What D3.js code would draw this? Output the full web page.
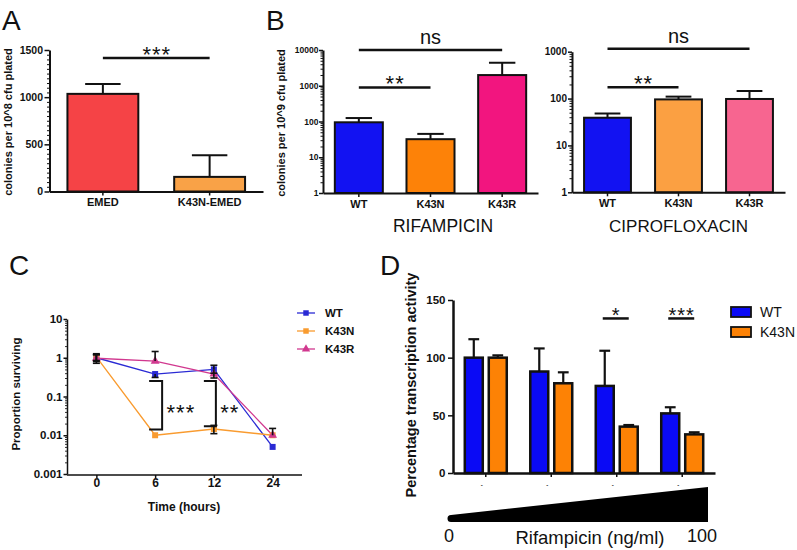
<!DOCTYPE html>
<html>
<head>
<meta charset="utf-8">
<script src="https://cdn.jsdelivr.net/npm/d3@7"></script>
<style>
  body { margin: 0; background: #fff; }
  text { font-family: "Liberation Sans", Arial, sans-serif; fill: #111; }
</style>
</head>
<body>
<svg id="fig" width="797" height="550"></svg>
<script>
// ---------- Panel A: colonies per 10^8 ----------
const aCats = ["EMED", "K43N-EMED"];
const aMeans = [1035, 155];
const aErrTop = [1140, 385];
const aColors = ["#f54346", "#f9a247"];
const aTicks = [0, 500, 1000, 1500];
const aSig = [{ a: 0, b: 1, v: 1415, label: "***" }];

// ---------- Panel B: rifampicin / ciprofloxacin ----------
const bCats = ["WT", "K43N", "K43R"];
const rifMeans = [95, 32, 1990];
const rifErrTop = [125, 45, 4400];
const rifColors = ["#1212f2", "#fd8208", "#f2157f"];
const rifTicks = [1, 10, 100, 1000, 10000];
const rifSig = [{ a: 0, b: 2, v: 10000, label: "ns" }, { a: 0, b: 1, v: 900, label: "**" }];

const cipMeans = [39, 96, 98];
const cipErrTop = [48, 110, 145];
const cipColors = ["#1212f2", "#fba042", "#f76590"];
const cipTicks = [1, 10, 100, 1000];
const cipSig = [{ a: 0, b: 2, v: 1150, label: "ns" }, { a: 0, b: 1, v: 175, label: "**" }];

// ---------- Panel C: survival over time ----------
const cTimes = ["0", "6", "12", "24"];
const cNames = ["WT", "K43N", "K43R"];
const cColors = ["#2a2ad4", "#f99b2f", "#d1388f"];
const cWT = [1.0, 0.38, 0.5, 0.005];
const cK43N = [1.05, 0.01, 0.0145, 0.01];
const cK43R = [0.97, 0.82, 0.38, 0.01];
const cWTHi = [1.2, null, 0.64, null];
const cWTLo = [0.8, 0.31, 0.4, null];
const cK43NHi = [1.2, null, 0.018, null];
const cK43NLo = [0.85, null, 0.011, null];
const cK43RHi = [1.27, 1.45, null, 0.015];
const cK43RLo = [0.72, null, 0.3, null];
const cTicks = [0.001, 0.01, 0.1, 1, 10];
const cSig = [{ at: "6", hi: 0.25, lo: 0.014, label: "***" }, { at: "12", hi: 0.25, lo: 0.017, label: "**" }];

// ---------- Panel D: transcription activity ----------
const dGroups = ["d1", "d2", "d3", "d4"];
const dTickLabels = ["-", "-", "-", "-"];
const dNames = ["WT", "K43N"];
const dColors = ["#0a0af5", "#fd8205"];
const dWT = [100, 88, 75.5, 51.7];
const dWTErr = [116, 108, 106, 57];
const dK43N = [100, 77.8, 40.2, 33.5];
const dK43NErr = [102, 87.3, 41.6, 35.3];
const dTicks = [0, 50, 100, 150];
const dSig = [{ g: 2, v: 134, label: "*" }, { g: 3, v: 134, label: "***" }];

const FONT = '"Liberation Sans", Arial, sans-serif';
const svg = d3.select("#fig");

function styleAxis(g, fs, lw) {
  g.attr("font-family", FONT);
  g.select(".domain").attr("stroke", "#111").attr("stroke-width", lw || 2);
  g.selectAll(".tick line").attr("stroke", "#111").attr("stroke-width", 1.5);
  g.selectAll(".tick text").attr("fill", "#111")
    .style("font-size", fs + "px").style("font-weight", "bold");
}

function logMinor(lo, hi) {
  const out = [];
  for (let d = lo; d < hi; d *= 10) {
    for (let k = 2; k <= 9; k++) out.push(d * k);
  }
  return out;
}

function panelLabel(txt, x, y) {
  svg.append("text").attr("x", x).attr("y", y)
    .style("font-size", "28px").text(txt);
}

function yLabel(txt, x, y, fs) {
  svg.append("text")
    .attr("transform", `translate(${x},${y}) rotate(-90)`)
    .attr("text-anchor", "middle")
    .style("font-size", fs + "px").style("font-weight", "bold")
    .text(txt);
}

function stars(g, txt, x, yc, fs, ls) {
  // asterisks sit high in the em box, so shift the baseline down
  g.append("text").attr("x", x + ls / 2).attr("y", yc + 0.58 * fs)
    .attr("text-anchor", "middle")
    .style("font-size", fs + "px")
    .style("letter-spacing", ls + "px")
    .text(txt);
}

// Generic bar panel (panels A and B)
function barPanel(o) {
  const g = svg.append("g");
  const x = d3.scaleBand().domain(o.cats).range(o.xr)
    .paddingInner(o.pad).paddingOuter(o.pad / 2);
  const y = o.y;
  const base = y.domain()[0];
  const bw = x.bandwidth();

  g.selectAll("rect.bar").data(o.means).join("rect")
    .attr("class", "bar")
    .attr("x", (d, i) => x(o.cats[i]))
    .attr("y", d => y(d))
    .attr("width", bw)
    .attr("height", d => y(base) - y(d))
    .attr("fill", (d, i) => o.colors[i])
    .attr("stroke", "#111").attr("stroke-width", 2);

  const cap = bw * o.cap;
  o.errTop.forEach((e, i) => {
    const cx = x(o.cats[i]) + bw / 2;
    g.append("line").attr("x1", cx).attr("x2", cx)
      .attr("y1", y(o.means[i])).attr("y2", y(e))
      .attr("stroke", "#111").attr("stroke-width", 2);
    g.append("line").attr("x1", cx - cap / 2).attr("x2", cx + cap / 2)
      .attr("y1", y(e)).attr("y2", y(e))
      .attr("stroke", "#111").attr("stroke-width", 2);
  });

  // minor ticks first, major axis on top
  if (o.minor) {
    g.append("g").attr("transform", `translate(${o.xr[0]},0)`)
      .call(d3.axisLeft(y).tickValues(o.minor).tickSize(2.5).tickFormat("").tickSizeOuter(0))
      .call(a => { a.select(".domain").remove(); a.selectAll("line").attr("stroke", "#111").attr("stroke-width", 1); });
  }
  const ya = g.append("g").attr("transform", `translate(${o.xr[0]},0)`)
    .call(d3.axisLeft(y).tickValues(o.ticks).tickSize(o.tickSize).tickPadding(o.tickPad)
      .tickFormat(d3.format("d")).tickSizeOuter(0));
  styleAxis(ya, o.tickFs);

  const xa = g.append("g").attr("transform", `translate(0,${y(base)})`)
    .call(d3.axisBottom(x).tickSize(4).tickPadding(3).tickSizeOuter(0));
  styleAxis(xa, o.catFs);

  o.sig.forEach(s => {
    const x1 = x(o.cats[s.a]) + bw / 2, x2 = x(o.cats[s.b]) + bw / 2;
    const yy = y(s.v);
    g.append("line").attr("x1", x1).attr("x2", x2).attr("y1", yy).attr("y2", yy)
      .attr("stroke", "#111").attr("stroke-width", 2.5);
    if (s.label === "ns") {
      g.append("text").attr("x", (x1 + x2) / 2).attr("y", yy - 6)
        .attr("text-anchor", "middle").style("font-size", "20px").text("ns");
    } else {
      stars(g, s.label, (x1 + x2) / 2, yy - 9, 22, 1);
    }
  });
  return { g, x, y };
}

// ---------- Panel A ----------
panelLabel("A", 2, 30);
barPanel({
  cats: aCats, means: aMeans, errTop: aErrTop, colors: aColors,
  xr: [49.5, 263], pad: 0.336, cap: 0.5,
  y: d3.scaleLinear().domain([0, 1500]).range([191.5, 50]),
  ticks: aTicks, minor: d3.range(50, 1500, 50).filter(v => v % 500 !== 0),
  tickSize: 5, tickPad: 1.5, tickFs: 10.5, catFs: 11, sig: aSig
});
yLabel("colonies per 10^8 cfu plated", 11.5, 122, 11);

// ---------- Panel B ----------
panelLabel("B", 266, 30);
barPanel({
  cats: bCats, means: rifMeans, errTop: rifErrTop, colors: rifColors,
  xr: [323, 538], pad: 0.33, cap: 0.55,
  y: d3.scaleLog().domain([1, 10000]).range([193, 50]),
  ticks: rifTicks, minor: logMinor(1, 10000),
  tickSize: 4, tickPad: 0.5, tickFs: 8.5, catFs: 11, sig: rifSig
});
yLabel("colonies per 10^9 cfu plated", 285, 123, 11);
svg.append("text").attr("x", 443).attr("y", 231.5).attr("text-anchor", "middle")
  .style("font-size", "17.5px").text("RIFAMPICIN");

barPanel({
  cats: bCats, means: cipMeans, errTop: cipErrTop, colors: cipColors,
  xr: [572, 785], pad: 0.34, cap: 0.55,
  y: d3.scaleLog().domain([1, 1000]).range([192.3, 51.7]),
  ticks: cipTicks, minor: logMinor(1, 1000),
  tickSize: 4, tickPad: 1, tickFs: 10, catFs: 11, sig: cipSig
});
svg.append("text").attr("x", 678.5).attr("y", 231.5).attr("text-anchor", "middle")
  .style("font-size", "17px").text("CIPROFLOXACIN");

// ---------- Panel C ----------
panelLabel("C", 9, 275);
{
  const g = svg.append("g");
  const x = d3.scalePoint().domain(cTimes).range([67, 302]).padding(0.5);
  const y = d3.scaleLog().domain([0.001, 10]).range([474, 319]);
  const series = [
    { name: cNames[0], vals: cWT, hi: cWTHi, lo: cWTLo, color: cColors[0], shape: d3.symbolSquare },
    { name: cNames[1], vals: cK43N, hi: cK43NHi, lo: cK43NLo, color: cColors[1], shape: d3.symbolSquare },
    { name: cNames[2], vals: cK43R, hi: cK43RHi, lo: cK43RLo, color: cColors[2], shape: d3.symbolTriangle }
  ];

  g.append("g").attr("transform", "translate(67,0)")
    .call(d3.axisLeft(y).tickValues(logMinor(0.001, 10)).tickSize(2).tickFormat("").tickSizeOuter(0))
    .call(a => { a.select(".domain").remove(); a.selectAll("line").attr("stroke", "#333").attr("stroke-width", 1); });
  const ya = g.append("g").attr("transform", "translate(67,0)")
    .call(d3.axisLeft(y).tickValues(cTicks).tickSize(3.5).tickPadding(1).tickFormat(d => String(d)).tickSizeOuter(0));
  styleAxis(ya, 11.5, 1.5);
  const xa = g.append("g").attr("transform", "translate(0,475)")
    .call(d3.axisBottom(x).tickSize(3).tickPadding(0).tickSizeOuter(0));
  xa.select(".domain").attr("d", "M67,0H302");
  styleAxis(xa, 12, 1.5);

  const line = d3.line().x((d, i) => x(cTimes[i])).y(d => y(d));
  series.forEach(s => {
    g.append("path").attr("d", line(s.vals)).attr("fill", "none")
      .attr("stroke", s.color).attr("stroke-width", 1.3);
  });
  series.forEach(s => {
    g.selectAll(null).data(s.vals).join("path")
      .attr("transform", (d, i) => `translate(${x(cTimes[i])},${y(d)})`)
      .attr("d", d3.symbol(s.shape, s.shape === d3.symbolTriangle ? 34 : 36))
      .attr("fill", s.color);
  });
  // error bars
  series.forEach(s => {
    s.vals.forEach((v, i) => {
      const cx = x(cTimes[i]);
      [s.hi[i], s.lo[i]].forEach(e => {
        if (e == null) return;
        g.append("line").attr("x1", cx).attr("x2", cx).attr("y1", y(v)).attr("y2", y(e))
          .attr("stroke", "#111").attr("stroke-width", 1.6);
        g.append("line").attr("x1", cx - 3.5).attr("x2", cx + 3.5).attr("y1", y(e)).attr("y2", y(e))
          .attr("stroke", "#111").attr("stroke-width", 1.6);
      });
    });
  });
  // significance brackets
  cSig.forEach((s, k) => {
    const bx = x(s.at) + (k === 0 ? 7 : 2);
    const w = k === 0 ? 13 : 12;
    g.append("path")
      .attr("d", `M${bx - w},${y(s.hi)}H${bx}V${y(s.lo)}H${bx - w}`)
      .attr("fill", "none").attr("stroke", "#111").attr("stroke-width", 2);
    const tx = bx + 4 + (s.label.length * 9.5) / 2;
    stars(g, s.label, tx, 407, 22, 1);
  });
  // legend
  series.forEach((s, i) => {
    const ly = 313 + i * 18;
    g.append("line").attr("x1", 297).attr("x2", 315).attr("y1", ly).attr("y2", ly)
      .attr("stroke", s.color).attr("stroke-width", 1.3);
    g.append("path").attr("transform", `translate(306,${ly})`)
      .attr("d", d3.symbol(s.shape, 30)).attr("fill", s.color);
    g.append("text").attr("x", 325).attr("y", ly + 4)
      .style("font-size", "11.5px").style("font-weight", "bold").text(s.name);
  });
  svg.append("text").attr("x", 184).attr("y", 511).attr("text-anchor", "middle")
    .style("font-size", "12px").style("font-weight", "bold").text("Time (hours)");
  yLabel("Proportion surviving", 20, 394, 11.5);
}

// ---------- Panel D ----------
panelLabel("D", 380, 275);
{
  const g = svg.append("g");
  const x = d3.scaleBand().domain(dGroups).range([453, 715]).paddingInner(0.359).paddingOuter(0.18);
  const xs = d3.scaleBand().domain(dNames).range([0, x.bandwidth()]).paddingInner(0.25);
  const y = d3.scaleLinear().domain([0, 150]).range([473, 300]);
  const sets = [
    { name: dNames[0], vals: dWT, err: dWTErr, color: dColors[0] },
    { name: dNames[1], vals: dK43N, err: dK43NErr, color: dColors[1] }
  ];
  const bw = xs.bandwidth();
  sets.forEach(s => {
    s.vals.forEach((v, i) => {
      const bx = x(dGroups[i]) + xs(s.name);
      const cx = bx + bw / 2;
      g.append("line").attr("x1", cx).attr("x2", cx).attr("y1", y(v)).attr("y2", y(s.err[i]))
        .attr("stroke", "#111").attr("stroke-width", 2.2);
      g.append("line").attr("x1", cx - bw * 0.3).attr("x2", cx + bw * 0.3)
        .attr("y1", y(s.err[i])).attr("y2", y(s.err[i]))
        .attr("stroke", "#111").attr("stroke-width", 2.2);
      g.append("rect").attr("x", bx).attr("y", y(v)).attr("width", bw)
        .attr("height", y(0) - y(v)).attr("fill", s.color)
        .attr("stroke", "#111").attr("stroke-width", 2.5);
    });
  });
  const ya = g.append("g").attr("transform", "translate(453,0)")
    .call(d3.axisLeft(y).tickValues(dTicks).tickSize(5).tickPadding(2.5).tickSizeOuter(0));
  styleAxis(ya, 11.5, 2.5);
  const xa = g.append("g").attr("transform", "translate(0,473)")
    .call(d3.axisBottom(x).tickSize(4).tickPadding(6).tickSizeOuter(0)
      .tickFormat((d, i) => dTickLabels[i]));
  styleAxis(xa, 6, 2.5);
  xa.selectAll(".tick text").attr("fill", "#aaa").attr("dx", -4);

  dSig.forEach(s => {
    const cx = x(dGroups[s.g]) + x.bandwidth() / 2;
    g.append("line").attr("x1", cx - 14).attr("x2", cx + 12).attr("y1", y(s.v)).attr("y2", y(s.v))
      .attr("stroke", "#111").attr("stroke-width", 2.5);
    stars(g, s.label, cx - 1, y(s.v) - 8, 20, 1);
  });

  // legend
  sets.forEach((s, i) => {
    const ly = 307 + i * 20;
    g.append("rect").attr("x", 731).attr("y", ly).attr("width", 20).attr("height", 10)
      .attr("fill", s.color).attr("stroke", "#111").attr("stroke-width", 1.8);
    g.append("text").attr("x", 760).attr("y", ly + 10)
      .style("font-size", "14px").text(s.name);
  });

  // dose wedge and labels under the axis
  const [r0, r1] = x.range();
  const wl = r0 - 2, wr = r1 - 7;
  g.append("path")
    .attr("d", `M${wl},522 L${wr},522 L${wr},487 L${wl},515 A3.5,3.5 0 0 0 ${wl},522 Z`)
    .attr("fill", "#000");
  g.append("text").attr("x", r0 - 4).attr("y", 542).attr("text-anchor", "middle")
    .style("font-size", "18px").text("0");
  g.append("text").attr("x", wr - 6).attr("y", 542).attr("text-anchor", "middle")
    .style("font-size", "18px").text("100");
  g.append("text").attr("x", 590).attr("y", 544).attr("text-anchor", "middle")
    .style("font-size", "18.5px").text("Rifampicin (ng/ml)");
  yLabel("Percentage transcription activity", 416, 385, 14.5);
}
</script>
</body>
</html>
